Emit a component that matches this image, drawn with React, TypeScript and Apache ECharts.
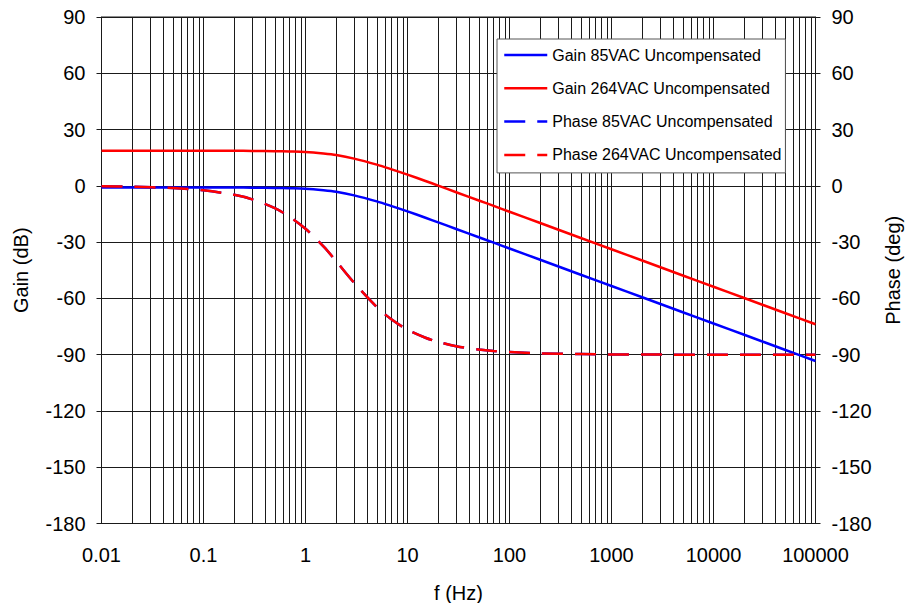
import React, { useEffect, useRef } from "react";
import * as echarts from "echarts";

// Frequency points (Hz)
const freq = [
  0.01, 0.02, 0.05, 0.1, 0.2, 0.3, 0.5, 0.7, 1, 1.5, 2, 3, 5, 7, 10, 15, 20, 30,
  50, 70, 100, 200, 500, 1000, 2000, 5000, 10000, 20000, 50000, 100000,
];

// Gain 85VAC (dB)
const gain85 = [
  -0.9, -0.9, -0.9, -0.9, -0.9, -1.0, -1.1, -1.3, -1.6, -2.4, -3.2, -5.1, -8.3,
  -10.8, -13.6, -17.0, -19.5, -23.0, -27.4, -30.3, -33.4, -39.4, -47.4, -53.4,
  -59.4, -67.4, -73.4, -79.4, -87.4, -93.4,
];

// Gain 264VAC (dB)
const gain264 = [
  18.7, 18.7, 18.7, 18.7, 18.7, 18.6, 18.5, 18.3, 18.0, 17.2, 16.4, 14.5, 11.3,
  8.8, 6.0, 2.6, 0.1, -3.4, -7.8, -10.7, -13.8, -19.8, -27.8, -33.8, -39.8,
  -47.8, -53.8, -59.8, -67.8, -73.8,
];

// Phase 85VAC (deg)
const phase85 = [
  -0.2, -0.5, -1.2, -2.4, -4.8, -7.2, -11.9, -16.5, -22.9, -32.3, -40.2, -51.7,
  -64.6, -71.3, -76.7, -81.0, -83.2, -85.5, -87.3, -88.1, -88.6, -89.3, -89.7,
  -89.9, -89.9, -90, -90, -90, -90, -90,
];

// Phase 264VAC (deg)
const phase264 = [
  -0.2, -0.5, -1.2, -2.4, -4.8, -7.2, -11.9, -16.5, -22.9, -32.3, -40.2, -51.7,
  -64.6, -71.3, -76.7, -81.0, -83.2, -85.5, -87.3, -88.1, -88.6, -89.3, -89.7,
  -89.9, -89.9, -90, -90, -90, -90, -90,
];

const seriesNames = [
  "Gain 85VAC Uncompensated",
  "Gain 264VAC Uncompensated",
  "Phase 85VAC Uncompensated",
  "Phase 264VAC Uncompensated",
];

// Grid decades and minor multipliers for log grid lines
const decades = [0.01, 0.1, 1, 10, 100, 1000, 10000];
const minorMultipliers = [2, 3, 4, 5, 6, 7, 8, 9];

const FONT = "'Liberation Sans', Arial, sans-serif";
const BLUE = "#0000ff";
const RED = "#ff0000";
const GRIDC = "#1a1a1a";

function pairs(ys: number[]) {
  return freq.map((f, i) => [f, ys[i]]);
}

function fmt(v: number) {
  return String(Number(v.toPrecision(6)));
}

export default function App() {
  const ref = useRef<HTMLDivElement>(null);

  useEffect(() => {
    if (!ref.current) return;
    const chart = echarts.init(ref.current, undefined, { renderer: "svg" });

    const minorLines: any[] = [];
    decades.forEach((d) =>
      minorMultipliers.forEach((m) => minorLines.push({ xAxis: Number((d * m).toPrecision(6)) }))
    );

    const lineSeries = (
      name: string,
      ys: number[],
      color: string,
      dashed: boolean,
      yIdx: number
    ) => ({
      name,
      type: "line",
      data: pairs(ys),
      yAxisIndex: yIdx,
      symbol: "none",
      showSymbol: false,
      smooth: 0.3,
      z: 3,
      lineStyle: {
        color,
        width: 2.5,
        type: dashed ? [21, 12] : "solid",
      },
      itemStyle: { color },
    });

    chart.setOption({
      animation: false,
      backgroundColor: "#ffffff",
      grid: {
        left: 101.5,
        right: 92.5,
        top: 17,
        bottom: 79.5,
        outerBoundsMode: "none",
        containLabel: false,
        show: true,
        borderColor: GRIDC,
        borderWidth: 1,
        backgroundColor: "transparent",
      },
      legend: {
        orient: "vertical",
        left: 497,
        top: 39,
        itemWidth: 43,
        itemHeight: 14,
        itemGap: 17.3,
        padding: [8, 4, 10, 6],
        borderColor: "#555555",
        borderWidth: 1,
        backgroundColor: "#ffffff",
        itemStyle: { opacity: 0, borderWidth: 0 },
        lineStyle: { width: 2.5 },
        textStyle: {
          fontSize: 16,
          lineHeight: 16,
          fontFamily: FONT,
          color: "#000",
        },
        data: seriesNames,
      },
      xAxis: {
        type: "log",
        logBase: 10,
        min: 0.01,
        max: 100000,
        interval: 1,
        name: "f (Hz)",
        nameLocation: "middle",
        nameGap: 59,
        nameTextStyle: { fontSize: 20, fontFamily: FONT, color: "#000" },
        axisLine: { show: true, lineStyle: { color: GRIDC, width: 1 } },
        axisTick: { show: true, length: 6, lineStyle: { color: GRIDC } },
        axisLabel: {
          fontSize: 20,
          fontFamily: FONT,
          color: "#000",
          margin: 21,
          formatter: (v: number) => fmt(v),
        },
        splitLine: { show: true, lineStyle: { color: GRIDC, width: 1 } },
      },
      yAxis: [
        {
          type: "value",
          position: "left",
          min: -180,
          max: 90,
          interval: 30,
          name: "Gain (dB)",
          nameLocation: "middle",
          nameRotate: 90,
          nameGap: 71,
          nameTextStyle: { fontSize: 20, fontFamily: FONT, color: "#000" },
          axisLine: { show: true, lineStyle: { color: GRIDC, width: 1 } },
          axisTick: { show: true, length: 5, lineStyle: { color: GRIDC } },
          axisLabel: { fontSize: 20, fontFamily: FONT, color: "#000", margin: 16 },
          splitLine: { show: true, lineStyle: { color: GRIDC, width: 1 } },
        },
        {
          type: "value",
          position: "right",
          min: -180,
          max: 90,
          interval: 30,
          name: "Phase (deg)",
          nameLocation: "middle",
          nameRotate: 90,
          nameGap: 67,
          nameTextStyle: { fontSize: 20, fontFamily: FONT, color: "#000" },
          axisLine: { show: true, lineStyle: { color: GRIDC, width: 1 } },
          axisTick: { show: true, length: 5, lineStyle: { color: GRIDC } },
          axisLabel: { fontSize: 20, fontFamily: FONT, color: "#000", margin: 16 },
          splitLine: { show: false },
        },
      ],
      series: [
        {
          name: "minor-grid",
          type: "line",
          data: [],
          silent: true,
          z: 1,
          markLine: {
            silent: true,
            z: 1,
            symbol: ["none", "none"],
            label: { show: false },
            emphasis: { disabled: true },
            lineStyle: { color: GRIDC, width: 1, type: "solid" },
            data: minorLines,
          },
        },
        lineSeries(seriesNames[0], gain85, BLUE, false, 0),
        lineSeries(seriesNames[1], gain264, RED, false, 0),
        lineSeries(seriesNames[2], phase85, BLUE, true, 1),
        lineSeries(seriesNames[3], phase264, RED, true, 1),
      ],
    });

    return () => chart.dispose();
  }, []);

  return (
    <div
      ref={ref}
      style={{ position: "fixed", left: 0, top: 0, width: 908, height: 603 }}
    />
  );
}
